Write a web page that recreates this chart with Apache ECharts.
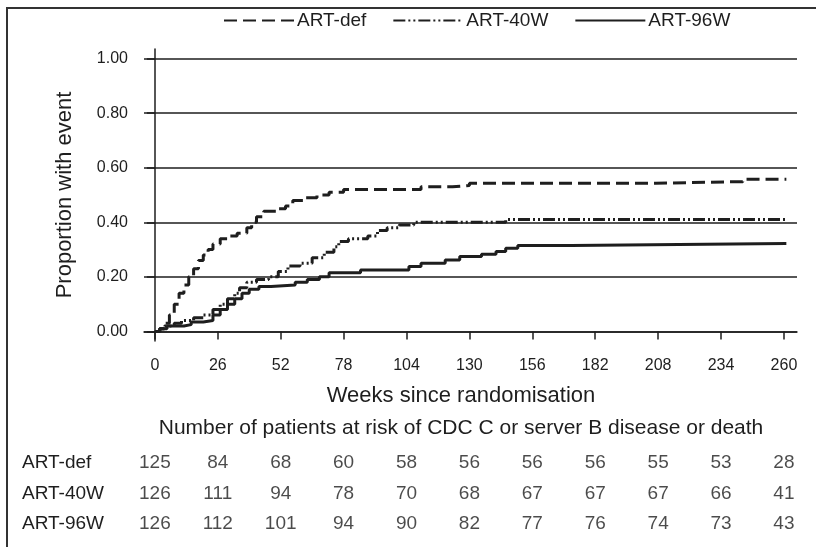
<!DOCTYPE html>
<html>
<head>
<meta charset="utf-8">
<script src="https://cdn.jsdelivr.net/npm/echarts@6/dist/echarts.min.js"></script>
<style>html,body{margin:0;padding:0;background:#fff}#c{width:816px;height:547px}</style>
</head>
<body>
<div id="c"></div>
<script>
// ---- data ----
var seriesNames = ['ART-def', 'ART-40W', 'ART-96W'];
var artDef = [[0,0],[2,0.01],[4,0.03],[6,0.06],[8,0.10],[10,0.14],[12,0.17],[14,0.20],[16,0.23],[18,0.26],[20,0.28],[22,0.30],[24,0.32],[27,0.34],[30,0.35],[34,0.36],[38,0.38],[40,0.40],[42,0.42],[45,0.44],[50,0.45],[54,0.46],[57,0.48],[62,0.49],[67,0.50],[72,0.51],[78,0.52],[110,0.53],[123,0.535],[130,0.543],[207,0.549],[243,0.558],[261,0.558]];
var art40W = [[0,0],[2,0.01],[4,0.02],[8,0.03],[11,0.04],[16,0.05],[20,0.06],[24,0.08],[27,0.10],[30,0.12],[33,0.14],[35,0.16],[38,0.18],[42,0.19],[47,0.20],[51,0.22],[55,0.24],[60,0.25],[65,0.27],[70,0.29],[74,0.31],[76,0.33],[80,0.34],[88,0.35],[92,0.37],[96,0.38],[101,0.39],[107,0.40],[145,0.41],[261,0.41]];
var art96W = [[0,0],[2,0.01],[5,0.02],[12,0.025],[15,0.035],[20,0.04],[24,0.06],[27,0.08],[30,0.10],[33,0.12],[36,0.14],[39,0.155],[43,0.165],[48,0.17],[58,0.18],[63,0.19],[68,0.20],[72,0.215],[85,0.225],[105,0.238],[110,0.25],[120,0.262],[126,0.275],[135,0.283],[141,0.293],[145,0.305],[150,0.315],[172,0.322],[261,0.322]];
var weekTicks = [0,26,52,78,104,130,156,182,208,234,260];
var propTicks = [0,0.2,0.4,0.6,0.8,1.0];
var riskDef = [125,84,68,60,58,56,56,56,55,53,28];
var risk40W = [126,111,94,78,70,68,67,67,67,66,41];
var risk96W = [126,112,101,94,90,82,77,76,74,73,43];
var xTitle = 'Weeks since randomisation';
var yTitle = 'Proportion with event';
var tableTitle = 'Number of patients at risk of CDC C or server B disease or death';

// ---- chart ----
var FONT = '"Liberation Sans", Arial, sans-serif';
var INK = '#1e1e1e';
var chart = echarts.init(document.getElementById('c'));

function riskSeries(name, vals) {
  return {
    type: 'scatter', xAxisIndex: 1, yAxisIndex: 1, symbolSize: 0, silent: true,
    data: vals.map(function (v, i) { return [weekTicks[i], name, v]; }),
    label: { show: true, position: 'inside', formatter: function (p) { return p.value[2]; },
      fontFamily: FONT, fontSize: 19, color: INK }
  };
}

var option = {
  animation: false,
  backgroundColor: '#fff',
  textStyle: { fontFamily: FONT, color: INK },
  legend: {
    top: 6, left: 218, itemWidth: 70, itemHeight: 14, itemGap: 26,
    itemStyle: { opacity: 0 },
    textStyle: { fontFamily: FONT, fontSize: 19, color: INK, padding: [0, 0, 0, -2] },
    data: seriesNames
  },
  grid: [
    { left: 144, right: 19, top: 49, bottom: 206 },
    { left: 144, right: 19, top: 448, height: 91 }
  ],
  xAxis: [
    { type: 'value', gridIndex: 0, min: -4.5, max: 265.4,
      axisLine: { show: true, lineStyle: { color: INK, width: 1.5 } },
      axisTick: { show: true, length: 8, customValues: weekTicks, lineStyle: { color: INK, width: 1.5 } },
      axisLabel: { customValues: weekTicks, fontSize: 16, color: INK, margin: 17, fontFamily: FONT },
      splitLine: { show: false } },
    { type: 'value', gridIndex: 1, min: -4.5, max: 265.4, show: false }
  ],
  yAxis: [
    { type: 'value', gridIndex: 0, min: -0.035, max: 1.035,
      axisLine: { show: true, lineStyle: { color: INK, width: 1.5 } },
      axisTick: { show: true, length: 8, customValues: propTicks, lineStyle: { color: INK, width: 1.5 } },
      axisLabel: { customValues: propTicks, fontSize: 16, color: INK, margin: 16, fontFamily: FONT,
        formatter: function (v) { return v.toFixed(2); } },
      splitLine: { show: true, lineStyle: { color: INK, width: 1.5 } },
      name: yTitle, nameLocation: 'middle', nameGap: 68, nameRotate: 90,
      nameTextStyle: { fontSize: 22, color: INK, fontFamily: FONT } },
    { type: 'category', gridIndex: 1, inverse: true, data: seriesNames,
      axisLine: { show: false }, axisTick: { show: false },
      axisLabel: { align: 'left', margin: 122, fontSize: 19, color: INK, fontFamily: FONT } }
  ],
  graphic: [
    { type: 'rect', shape: { x: 7, y: 8, width: 840, height: 560 }, style: { fill: 'none', stroke: '#333', lineWidth: 2 }, silent: true },
    { type: 'text', x: 461, y: 396, style: { text: xTitle, textAlign: 'center', textVerticalAlign: 'middle', font: '22px ' + FONT, fill: INK } },
    { type: 'text', x: 461, y: 428, style: { text: tableTitle, textAlign: 'center', textVerticalAlign: 'middle', font: '21px ' + FONT, fill: INK } }
  ],
  series: [
    { name: 'ART-def', type: 'line', step: 'end', symbol: 'none', data: artDef,
      lineStyle: { color: INK, width: 3, type: [13, 6] }, itemStyle: { color: INK } },
    { name: 'ART-40W', type: 'line', step: 'end', symbol: 'none', data: art40W,
      lineStyle: { color: INK, width: 3, type: [12, 3, 2, 3, 2, 3] }, itemStyle: { color: INK } },
    { name: 'ART-96W', type: 'line', step: 'end', symbol: 'none', data: art96W,
      lineStyle: { color: INK, width: 3 }, itemStyle: { color: INK } },
    riskSeries('ART-def', riskDef),
    riskSeries('ART-40W', risk40W),
    riskSeries('ART-96W', risk96W)
  ]
};
chart.setOption(option);
</script>
</body>
</html>
